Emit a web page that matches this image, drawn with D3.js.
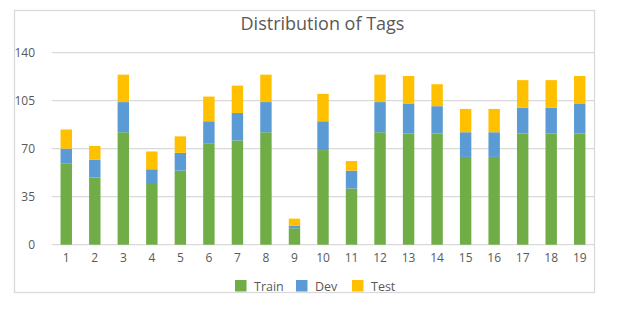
<!DOCTYPE html>
<html>
<head>
<meta charset="utf-8">
<script src="https://cdn.jsdelivr.net/npm/d3@7"></script>
<style>
  html, body { margin: 0; padding: 0; background: #fff; }
  svg { display: block; font-family: "Open Sans", "Liberation Sans", sans-serif; }
</style>
</head>
<body>
<svg id="chart" width="620" height="324"></svg>
<script>
// Tag ids and per-split counts
const tags = ["1","2","3","4","5","6","7","8","9","10","11","12","13","14","15","16","17","18","19"];
const train = [59, 49, 82, 45, 54, 74, 76, 82, 12, 69, 41, 82, 81, 81, 64, 64, 81, 81, 81];
const dev   = [11, 13, 22, 10, 13, 16, 20, 22,  2, 21, 13, 22, 22, 20, 18, 18, 19, 19, 22];
const test  = [14, 10, 20, 13, 12, 18, 20, 20,  5, 20,  7, 20, 20, 16, 17, 17, 20, 20, 20];
const yTicks = [0, 35, 70, 105, 140];
const seriesNames = ["Train", "Dev", "Test"];
const colors = ["#70AD47", "#5B9BD5", "#FFC000"];

const svg = d3.select("#chart");

// chart frame
svg.append("rect")
  .attr("x", 14.5).attr("y", 10.5)
  .attr("width", 580).attr("height", 282)
  .attr("fill", "#fff")
  .attr("stroke", "#d9d9d9").attr("stroke-width", 1.3);

const plot = { left: 52, right: 594, top: 52.7, bottom: 244.7 };

const x = d3.scaleBand()
  .domain(tags)
  .range([plot.left, plot.right])
  .paddingInner(0.6)
  .paddingOuter(0.3);

const y = d3.scaleLinear()
  .domain([0, 140])
  .range([plot.bottom, plot.top]);

// gridlines
svg.append("g")
  .selectAll("line")
  .data(yTicks)
  .join("line")
  .attr("x1", plot.left).attr("x2", plot.right)
  .attr("y1", d => y(d)).attr("y2", d => y(d))
  .attr("stroke", "#d9d9d9").attr("stroke-width", 1.3);

// y axis labels
const yAxis = d3.axisLeft(y).tickValues(yTicks).tickSize(0).tickPadding(0);
const gy = svg.append("g")
  .attr("transform", "translate(35,0)")
  .call(yAxis);
gy.select(".domain").remove();
gy.selectAll("text")
  .attr("fill", "#595959")
  .style("font-size", "12px")
  .style("font-family", "'Open Sans', sans-serif");

// x axis labels
const xAxis = d3.axisBottom(x).tickSize(0).tickPadding(0);
const gx = svg.append("g")
  .attr("transform", `translate(0,${plot.bottom + 9})`)
  .call(xAxis);
gx.select(".domain").remove();
gx.selectAll("text")
  .attr("fill", "#595959")
  .style("font-size", "12px")
  .style("font-family", "'Open Sans', sans-serif");

// stacked bars
const rows = tags.map((t, i) => ({ tag: t, Train: train[i], Dev: dev[i], Test: test[i] }));
const stacked = d3.stack().keys(seriesNames)(rows);

svg.append("g")
  .selectAll("g")
  .data(stacked)
  .join("g")
  .attr("fill", (d, i) => colors[i])
  .selectAll("rect")
  .data(d => d)
  .join("rect")
  .attr("x", d => x(d.data.tag))
  .attr("width", x.bandwidth())
  .attr("y", d => y(d[1]))
  .attr("height", d => y(d[0]) - y(d[1]));

// title
svg.append("text")
  .attr("x", 322.5).attr("y", 30)
  .attr("text-anchor", "middle")
  .attr("fill", "#595959")
  .style("font-size", "18px")
  .text("Distribution of Tags");

// legend
const legendX = [235, 296, 352];
const legend = svg.append("g");
seriesNames.forEach((name, i) => {
  legend.append("rect")
    .attr("x", legendX[i]).attr("y", 280)
    .attr("width", 11.5).attr("height", 11.5)
    .attr("fill", colors[i]);
  legend.append("text")
    .attr("x", legendX[i] + 19).attr("y", 290.5)
    .attr("fill", "#595959")
    .style("font-size", "12.5px")
    .text(name);
});
</script>
</body>
</html>
